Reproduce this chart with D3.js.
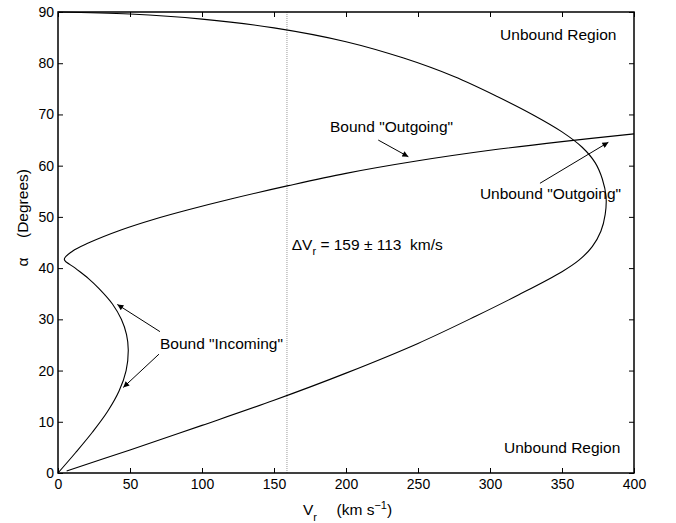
<!DOCTYPE html>
<html><head><meta charset="utf-8">
<script src="https://cdn.jsdelivr.net/npm/d3@7"></script>
<style>
body{margin:0;background:#fff;}
text{font-family:"Liberation Sans",Arial,Helvetica,sans-serif;fill:#000;white-space:pre;}
</style></head><body>
<svg id="c" width="676" height="523"></svg>
<script>
// ---- data ----
const xTicks = [0,50,100,150,200,250,300,350,400];
const yTicks = [0,10,20,30,40,50,60,70,80,90];
// outer (unbound boundary) curve
const outerV = [0,50,100,150,200,240,275,305,330,350,364,373,378,380.6,380,377,371,362,350,320,290,250,200,150,100,50,6];
const outerA = [90,89.6,88.6,86.9,84.2,81.0,77.4,73.5,69.9,66.6,63.6,60.6,57.4,53.9,50.5,47.2,44.2,41.6,39.3,34.8,30.6,25.3,19.5,14.2,9.3,4.5,0.4];
// bound curve (incoming + outgoing)
const boundV = [0,12.3,24,34.4,42.4,47.3,48.8,47.6,44.0,37.8,28.5,21.0,12.0,4.4,10,21,44.2,67.4,90.5,120,160,200,250,300,350,400];
const boundA = [0,4,8,12,16,20,24,27,30,33,36,38,40,41.7,43.3,44.9,47.5,49.6,51.4,53.5,56.1,58.5,60.95,63.0,64.7,66.2];
const deltaVr = 159;
// annotation texts
const labels = ["Unbound Region","Unbound Region",'Bound "Outgoing"','Unbound "Outgoing"','Bound "Incoming"'];
const labelV = [307,309.7,188.9,293,70.8];
const labelA = [85.5,5.0,67.55,54.6,25.3];
// arrows: from (V,α) to (V,α)
const arrowFromV = [222.4,334.7,70.8,70.1];
const arrowFromA = [65.0,56.56,27.6,23.2];
const arrowToV = [243.3,382.2,41.2,45.3];
const arrowToA = [61.75,64.56,32.9,16.7];

// ---- drawing ----
const svg = d3.select("#c");
const L=58,R=634,T=12,B=473;
const x = d3.scaleLinear().domain([0,400]).range([L,R]);
const y = d3.scaleLinear().domain([0,90]).range([B,T]);

// dotted vertical line
svg.append("line").attr("x1",x(deltaVr)).attr("x2",x(deltaVr)).attr("y1",y(0)).attr("y2",y(90))
  .attr("stroke","#999").attr("stroke-width",1).attr("stroke-dasharray","1,1");

const line = d3.line().x(d=>x(d[0])).y(d=>y(d[1])).curve(d3.curveCatmullRom.alpha(0.5));
svg.append("path").datum(outerV.map((v,i)=>[v,outerA[i]])).attr("d",line)
  .attr("fill","none").attr("stroke","#000").attr("stroke-width",1.1);
svg.append("path").datum(boundV.map((v,i)=>[v,boundA[i]])).attr("d",line)
  .attr("fill","none").attr("stroke","#000").attr("stroke-width",1.1);

// axes
const tl=5;
const gx = svg.append("g").attr("transform",`translate(0,${B})`)
  .call(d3.axisBottom(x).tickValues(xTicks).tickSize(-tl).tickPadding(8).tickFormat(d3.format("d")));
const gxt = svg.append("g").attr("transform",`translate(0,${T})`)
  .call(d3.axisTop(x).tickValues(xTicks).tickSize(-tl).tickFormat(""));
const gy = svg.append("g").attr("transform",`translate(${L},0)`)
  .call(d3.axisLeft(y).tickValues(yTicks).tickSize(-tl).tickPadding(4).tickFormat(d3.format("d")));
const gyr = svg.append("g").attr("transform",`translate(${R},0)`)
  .call(d3.axisRight(y).tickValues(yTicks).tickSize(-tl).tickFormat(""));
[gx,gxt,gy,gyr].forEach(g=>{
  g.select(".domain").remove();
  g.selectAll(".tick line").attr("stroke","#000").attr("stroke-width",1);
  g.selectAll(".tick text").style("font-size","14px").attr("font-family",null);
});
gx.selectAll(".tick text").attr("dy","0.6em");
svg.append("rect").attr("x",L).attr("y",T).attr("width",R-L).attr("height",B-T)
  .attr("fill","none").attr("stroke","#000").attr("stroke-width",1.5);

// annotation labels
svg.selectAll("text.lab").data(labels).enter().append("text").attr("class","lab")
  .attr("x",(d,i)=>x(labelV[i])).attr("y",(d,i)=>y(labelA[i])).attr("dy","0.35em")
  .style("font-size","15.5px").text(d=>d);

// arrows
const defs = svg.append("defs");
defs.append("marker").attr("id","ah").attr("viewBox","0 0 10 10").attr("refX",10).attr("refY",5)
  .attr("markerWidth",8).attr("markerHeight",6).attr("markerUnits","userSpaceOnUse").attr("orient","auto")
  .append("path").attr("d","M0,0 L10,5 L0,10 Z").attr("fill","#000");
arrowFromV.forEach((v,i)=>{
  svg.append("line").attr("x1",x(v)).attr("y1",y(arrowFromA[i]))
    .attr("x2",x(arrowToV[i])).attr("y2",y(arrowToA[i]))
    .attr("stroke","#000").attr("stroke-width",1).attr("marker-end","url(#ah)");
});

// ΔVr label
const dt = svg.append("text").attr("x",x(162.3)).attr("y",y(44.65)).attr("dy","0.35em").style("font-size","15.5px");
dt.append("tspan").text("ΔV");
dt.append("tspan").text("r").attr("dy","5").style("font-size","11px");
dt.append("tspan").text(" = 159 ± 113  km/s").attr("dy","-5");

// x label
const xl = svg.append("text").attr("x",303).attr("y",515).style("font-size","15.5px");
xl.append("tspan").text("V");
xl.append("tspan").text("r").attr("dy","6").style("font-size","11px");
xl.append("tspan").text("(km s").attr("x",336.5).attr("dy","-6");
xl.append("tspan").text("−1").attr("dy","-6").style("font-size","11px");
xl.append("tspan").text(")").attr("dy","6");

// y label
svg.append("text").attr("transform","translate(28,262) rotate(-90)").attr("text-anchor","middle")
  .style("font-size","15.5px").text("α");
svg.append("text").attr("transform","translate(28,238) rotate(-90)").attr("text-anchor","start")
  .style("font-size","15.5px").text("(Degrees)");
</script></body></html>
